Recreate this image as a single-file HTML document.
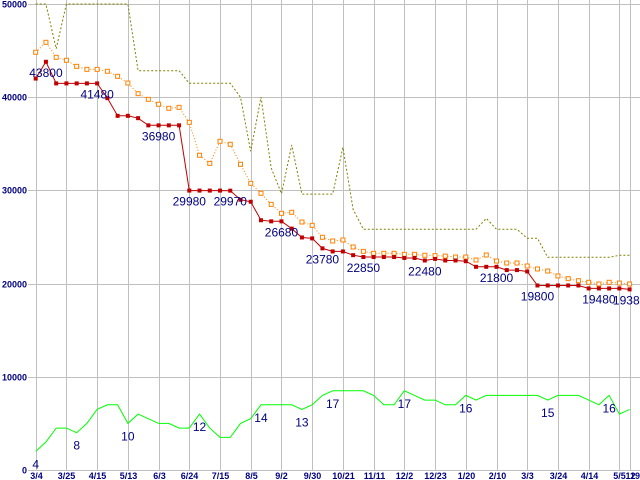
<!DOCTYPE html>
<html><head><meta charset="utf-8"><style>
html,body{margin:0;padding:0;background:#fff;}
svg{display:block;font-family:"Liberation Sans",Arial,sans-serif;}
</style></head><body>
<svg id="chart" width="640" height="480" viewBox="0 0 640 480" xmlns="http://www.w3.org/2000/svg">
<g id="grid"></g>
<g id="axes"></g>
<g id="series"></g>
<g id="labels"></g>
</svg>
<script>
const maxPrice = [50000,50000,45200,50000,50000,50000,50000,50000,50000,50000,42840,42840,42840,42840,42840,41490,41490,41490,41490,41490,39990,34200,40000,32400,29650,34870,29600,29600,29600,29600,34620,27970,25830,25830,25830,25830,25830,25830,25830,25830,25830,25830,25830,25830,27000,25830,25830,25830,24860,24860,22820,22820,22820,22820,22820,22820,22820,23040,23040];
const avgPrice = [44820,45890,44280,43960,43310,42990,42990,42780,42240,41520,40380,39770,39240,38810,38910,37300,33770,32900,35270,34950,32800,30760,29690,28500,27540,27650,26610,26250,24970,24570,24680,23930,23460,23250,23250,23250,23140,23140,23040,23000,22950,22850,22850,22530,23070,22420,22210,22210,21890,21570,21350,20820,20530,20310,20140,19960,20140,20060,19960];
const minPrice = [42000,43800,41480,41480,41480,41480,41480,39900,38000,38000,37750,36980,36980,36980,36980,29980,29980,29980,29980,29970,29000,28780,26800,26680,26680,25900,24950,24850,23780,23450,23450,23050,22850,22850,22850,22850,22750,22750,22480,22650,22480,22480,22400,21800,21800,21800,21450,21450,21300,19800,19800,19800,19800,19800,19480,19480,19480,19480,19380];
const shopCount = [4,6,9,9,8,10,13,14,14,10,12,11,10,10,9,9,12,9,7,7,10,11,14,14,14,14,13,14,16,17,17,17,17,16,14,14,17,16,15,15,14,14,16,15,16,16,16,16,16,16,15,16,16,16,15,14,16,12,13];
const minLabelIdx = [1,6,12,15,19,24,28,32,38,45,49,55,58];
const countLabelIdx = [0,4,9,16,22,26,29,36,42,50,56];
const xTickIdx = [0,3,6,9,12,15,18,21,24,27,30,33,36,39,42,45,48,51,54,57,58];
const xTickText = ["3/4","3/25","4/15","5/13","6/3","6/24","7/15","8/5","9/2","9/30","10/21","11/11","12/2","12/23","1/20","2/10","3/3","3/24","4/14","5/5","12"];
const yTicks = [0,10000,20000,30000,40000,50000];

const NS="http://www.w3.org/2000/svg";
const X0=35.7, DX=10.24, Y0=470, KY=466/50000, COUNT_SCALE=500;
function xs(i){return X0+i*DX;}
function ys(v){return Y0-v*KY;}
function mk(tag,attrs,parent){const e=document.createElementNS(NS,tag);for(const k in attrs)e.setAttribute(k,attrs[k]);parent.appendChild(e);return e;}
const grid=document.getElementById('grid'),axes=document.getElementById('axes'),series=document.getElementById('series'),labels=document.getElementById('labels');

yTicks.forEach(v=>{
  const y=Math.round(ys(v))+0.5;
  const l=mk('line',{x1:28,x2:640,y1:y,y2:y,stroke:'#c0c0c0','stroke-width':1},grid);
  
  
  const t=mk('text',{x:27,y:y+3,'text-anchor':'end','font-size':9,'font-weight':'bold',fill:'#000080'},axes);
  t.textContent=String(v);
  
  
});
xTickIdx.forEach((i,k)=>{
  const x=Math.round(xs(i))+0.5;
  const l=mk('line',{x1:x,x2:x,y1:0,y2:470,stroke:'#c0c0c0','stroke-width':1},grid);
  
  
  const t=mk('text',{x:x,y:479,'text-anchor':'middle','font-size':9,'font-weight':'bold',fill:'#000080'},axes);
  t.textContent=xTickText[k];
  
  
});
const t19=mk('text',{x:640,y:479,'text-anchor':'end','font-size':9,'font-weight':'bold',fill:'#000080'},axes);
t19.textContent='19';



function pts(arr,scale){return arr.map((v,i)=>xs(i).toFixed(1)+','+ys(v*scale).toFixed(1)).join(' ');}
const pMax=mk('polyline',{points:pts(maxPrice,1),fill:'none',stroke:'#808000','stroke-width':1,'stroke-dasharray':'2,2'},series);


const pAvg=mk('polyline',{points:pts(avgPrice,1),fill:'none',stroke:'#ff8000','stroke-width':1,'stroke-dasharray':'1,2'},series);


avgPrice.forEach((v,i)=>{
  const r=mk('rect',{x:xs(i)-2,y:ys(v)-2,width:4,height:4,fill:'#fff',stroke:'#ff8000','stroke-width':1},series);
  
  
});
const pMin=mk('polyline',{points:pts(minPrice,1),fill:'none',stroke:'#c00000','stroke-width':1},series);


minPrice.forEach((v,i)=>{
  const r=mk('rect',{x:xs(i)-2,y:ys(v)-2,width:4,height:4,fill:'#c00000'},series);
  
  
});
const pCnt=mk('polyline',{points:pts(shopCount,COUNT_SCALE),fill:'none',stroke:'#00ff00','stroke-width':1},series);



minLabelIdx.forEach(i=>{
  const t=mk('text',{x:xs(i),y:ys(minPrice[i])+15,'text-anchor':'middle','font-size':12,fill:'#000080'},labels);
  t.textContent=String(minPrice[i]);
  
  
});
countLabelIdx.forEach(i=>{
  const t=mk('text',{x:xs(i),y:ys(shopCount[i]*COUNT_SCALE)+17,'text-anchor':'middle','font-size':12,fill:'#000080'},labels);
  t.textContent=String(shopCount[i]);
  
  
});
</script>
</body></html>
